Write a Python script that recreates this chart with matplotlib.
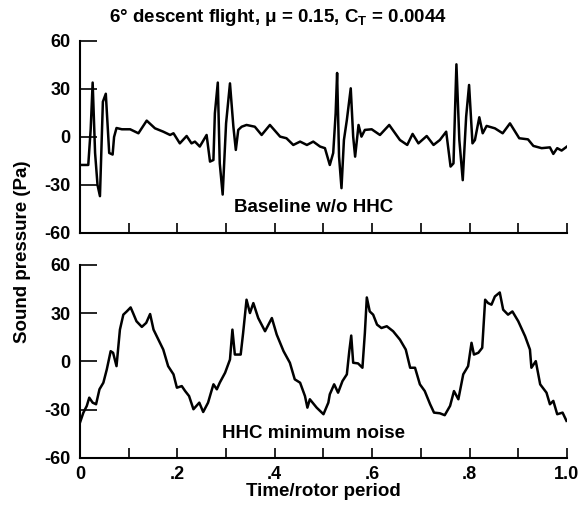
import matplotlib
matplotlib.use("Agg")
import matplotlib.pyplot as plt
import numpy as np

plt.rcParams['font.family'] = ['Liberation Sans', 'DejaVu Sans']
plt.rcParams['font.weight'] = 'bold'
plt.rcParams['mathtext.fontset'] = 'custom'
plt.rcParams['mathtext.rm'] = 'Liberation Sans:bold'
plt.rcParams['mathtext.it'] = 'Liberation Sans:bold'
plt.rcParams['mathtext.bf'] = 'Liberation Sans:bold'

# Baseline w/o HHC
t_base = [0.0, 0.017, 0.022, 0.026, 0.031, 0.036, 0.041, 0.047, 0.053, 0.060, 0.067, 0.070, 0.075,
          0.086, 0.103, 0.120, 0.137, 0.154, 0.171, 0.185, 0.192, 0.205, 0.219, 0.229, 0.236,
          0.246, 0.260, 0.267, 0.274, 0.277, 0.283, 0.287, 0.293, 0.300, 0.308, 0.315, 0.320,
          0.325, 0.332, 0.342, 0.359, 0.373, 0.390, 0.411, 0.424, 0.438, 0.452, 0.466, 0.479,
          0.493, 0.503, 0.513, 0.520, 0.525, 0.528, 0.532, 0.537, 0.542, 0.548, 0.556, 0.561,
          0.565, 0.572, 0.578, 0.585, 0.599, 0.616, 0.635, 0.657, 0.672, 0.683, 0.695, 0.712,
          0.726, 0.739, 0.752, 0.761, 0.767, 0.770, 0.773, 0.779, 0.786, 0.793, 0.799, 0.806,
          0.811, 0.820, 0.827, 0.835, 0.852, 0.868, 0.883, 0.902, 0.920, 0.931, 0.948, 0.965,
          0.972, 0.980, 0.989, 1.0]
p_base = [-17.5, -17.5, 5, 34, -10, -30, -37, 22, 27, -10, -11, 0, 5.6,
          4.8, 4.8, 2.3, 10.2, 5.4, 3.3, 1.25, 2.3, -4, 0.6, -4, -2.9,
          -6, 1.25, -15.4, -14.4, 14.8, 34, -16.5, -36, 8.5, 33.5, 6.4, -8.1,
          4.4, 6.4, 7.5, 6.4, 1.25, 7.5, 0.2, -0.8, -5, -2.9, -5, -2.9,
          -6, -7, -17.5, -10, 14.8, 40, -12.3, -32, -1.9, 10.6, 30.4, 0.2,
          -12.3, 7.5, 0.2, 4.4, 4.8, 1.25, 7.5, -1.9, -5, 1.9, -4, 0.6,
          -5, -1.9, 3.3, -18.5, -16.5, 14.8, 45.4, -1.9, -27, 12.7, 32.5, -4,
          -1.9, 12.3, 2.3, 6.9, 5.4, 2.3, 8.5, -0.8, -1.5, -5.6, -7, -6.5,
          -10.6, -7, -8.5, -6]

# HHC minimum noise
t_hhc = [0.0, 0.007, 0.014, 0.019, 0.026, 0.033, 0.040, 0.048, 0.055, 0.063, 0.068, 0.075, 0.082,
         0.089, 0.096, 0.104, 0.109, 0.116, 0.127, 0.136, 0.144, 0.151, 0.161, 0.171, 0.181,
         0.192, 0.199, 0.209, 0.216, 0.224, 0.233, 0.245, 0.253, 0.263, 0.274, 0.281, 0.287,
         0.298, 0.308, 0.313, 0.318, 0.330, 0.335, 0.342, 0.349, 0.356, 0.366, 0.380, 0.394,
         0.404, 0.418, 0.431, 0.441, 0.452, 0.462, 0.467, 0.472, 0.486, 0.500, 0.510, 0.513,
         0.522, 0.530, 0.539, 0.548, 0.553, 0.557, 0.561, 0.571, 0.580, 0.585, 0.589, 0.595,
         0.602, 0.610, 0.619, 0.630, 0.643, 0.657, 0.669, 0.678, 0.688, 0.698, 0.708, 0.719,
         0.727, 0.739, 0.749, 0.760, 0.768, 0.777, 0.787, 0.797, 0.804, 0.809, 0.818, 0.826,
         0.832, 0.838, 0.845, 0.852, 0.862, 0.869, 0.879, 0.888, 0.900, 0.914, 0.924, 0.927,
         0.936, 0.945, 0.958, 0.965, 0.972, 0.980, 0.991, 0.999]
p_hhc = [-38, -31.8, -27.6, -22.5, -25.6, -26.6, -17.3, -13.2, -5, 6.4, 5.4, -2.9, 19.8,
         29.1, 31.1, 33.6, 30.1, 25, 21.5, 24, 29.5, 19.8, 13.6, 7.4, -2.9,
         -8, -16.3, -15.3, -18.4, -21.5, -29.7, -25.6, -31.4, -25.6, -14.2, -17.3, -13.2,
         -7, 1.2, 19.8, 4.3, 4.3, 17.7, 38.4, 30.1, 36.3, 27, 18.8, 27,
         16.7, 6.4, -0.8, -11.1, -13.2, -21.5, -28.7, -23.5, -28.7, -32.8, -25.6, -20.4,
         -14.2, -19.4, -12.2, -8, 6.4, 16.1, -0.8, -1.2, -3.9, 17.7, 39.8, 31.1,
         29.1, 22.9, 20.8, 21.9, 18.8, 13.6, 7.4, -3.9, -3.9, -14.2, -18.4, -26.6,
         -31.8, -32.2, -33.4, -27.6, -18.4, -23.5, -8, -2.9, 11.6, 4.3, 5.4, 8.5,
         38.4, 36.3, 35.3, 40.4, 42.9, 32.2, 29.1, 31.1, 25, 15.7, 7.4, -3.9,
         0.2, -14.2, -19.4, -26.6, -24.5, -32.8, -31.8, -36.9]

y_ticks = [-60, -30, 0, 30, 60]
y_ticklabels = ['-60', '-30', '0', '30', '60']
x_ticks = [0, 0.2, 0.4, 0.6, 0.8, 1.0]
x_ticklabels = ['0', '.2', '.4', '.6', '.8', '1.0']
x_minor = [0.1, 0.3, 0.5, 0.7, 0.9]

FS = 13
TS = 13.5

fig = plt.figure(figsize=(5.86, 5.12), dpi=100)
ax1 = fig.add_axes([0.1365, 0.545, 0.831, 0.375])
ax2 = fig.add_axes([0.1365, 0.1055, 0.831, 0.377])

for ax, t, p, lab, ly in [(ax1, t_base, p_base, 'Baseline w/o HHC', -44),
                          (ax2, t_hhc, p_hhc, 'HHC minimum noise', -45)]:
    ax.plot(t, p, color='black', lw=1.8, clip_on=True)
    ax.set_xlim(0, 1.0)
    ax.set_ylim(-60, 60)
    for s in ['top', 'right']:
        ax.spines[s].set_visible(False)
    for s in ['left', 'bottom']:
        ax.spines[s].set_linewidth(1.5)
    ax.set_yticks(y_ticks)
    ax.set_yticklabels(y_ticklabels, fontsize=FS, fontweight='bold')
    ax.set_xticks(x_ticks)
    ax.set_xticks(x_minor, minor=True)
    ax.tick_params(axis='y', direction='in', length=12, width=1.2, pad=7)
    ax.tick_params(axis='x', which='both', direction='in', length=7, width=1.2)
    ax.text(0.48, ly, lab, ha='center', va='center', fontsize=TS, fontweight='bold')

ax1.set_xticklabels([])
ax2.set_xticklabels(x_ticklabels, fontsize=FS, fontweight='bold')
ax2.tick_params(axis='x', pad=6)
ax2.set_xlabel('Time/rotor period', fontsize=TS, fontweight='bold', labelpad=0)

fig.text(0.038, 0.508, 'Sound pressure (Pa)', rotation=90, ha='center', va='center',
         fontsize=TS, fontweight='bold')
fig.text(0.474, 0.965, r'6° descent flight, μ = 0.15, C$_{\mathrm{T}}$ = 0.0044',
         ha='center', va='center', fontsize=TS, fontweight='bold')

fig.savefig('out.png', dpi=100)
